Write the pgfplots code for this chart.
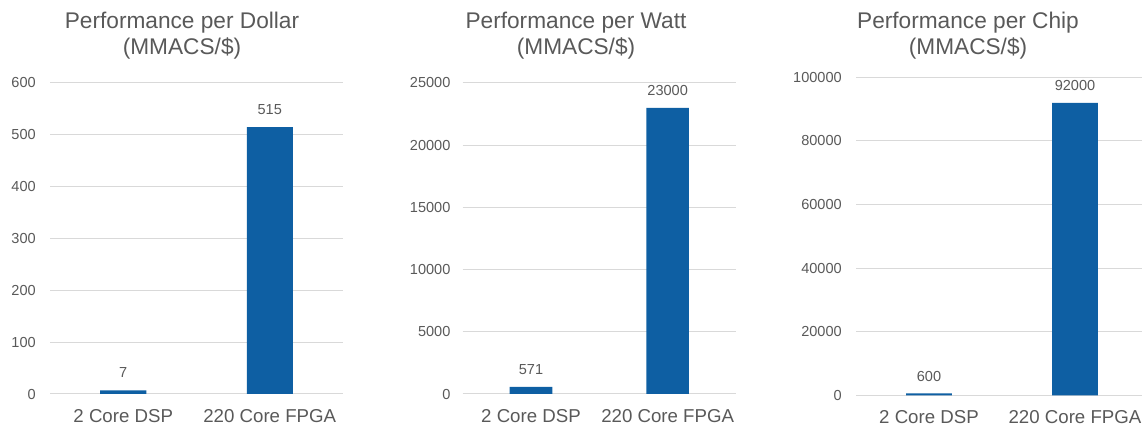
\documentclass[border=0pt]{standalone}
\usepackage{pgfplots}
\pgfplotsset{compat=1.18}
\usepackage{fontspec}
\setmainfont{Liberation Sans}
\definecolor{barblue}{HTML}{0E5FA3}
\definecolor{txt}{HTML}{595959}
\definecolor{gridc}{HTML}{D9D9D9}
\pgfplotsset{
  panel/.style={
    scale only axis, anchor=south west,
    ybar, bar width=0.314,
    xmin=-0.5, xmax=1.5, ymin=0,
    xtick={0,1}, xticklabels={2 Core DSP, 220 Core FPGA},
    axis line style={draw=none},
    major tick style={draw=none},
    ymajorgrids, grid style={gridc, line width=0.75pt},
    scaled y ticks=false,
    /pgf/number format/assume math mode=true,
    /pgf/number format/fixed,
    /pgf/number format/precision=0,
    /pgf/number format/1000 sep={},
    xticklabel style={font=\fontsize{14}{16}\selectfont, text=txt, anchor=base, yshift=-17pt},
    yticklabel style={font=\fontsize{10.9}{13}\selectfont, text=txt, anchor=east, inner sep=0pt, xshift=-10.5pt},
    nodes near coords,
    nodes near coords style={font=\fontsize{10.9}{13}\selectfont, text=txt, anchor=base, yshift=9.3pt},
  },
  bars/.style={fill=barblue, draw=none},
}
\tikzset{ttl/.style={anchor=base, font=\fontsize{17}{20}\selectfont, text=txt}}
\begin{document}
\begin{tikzpicture}
\useasboundingbox (0,0) rectangle (856.5pt,321pt);
\clip (0,0) rectangle (856.5pt,321pt);
\begin{axis}[panel, at={(37.5pt,25.5pt)}, width=219.75pt, height=233.25pt,
  ymax=600, ytick={0,100,...,600}]
\addplot[bars] coordinates {(0,7) (1,515)};
\end{axis}
\begin{axis}[panel, at={(347pt,25.5pt)}, width=205pt, height=233.25pt,
  ymax=25000, ytick={0,5000,...,25000}, bar width=0.312,
  yticklabel style={xshift=1.5pt}]
\addplot[bars] coordinates {(0,571) (1,23000)};
\end{axis}
\begin{axis}[panel, at={(642pt,24.5pt)}, width=219pt, height=238.5pt,
  ymax=100000, ytick={0,20000,...,100000}, bar width=0.312]
\addplot[bars] coordinates {(0,600) (1,92000)};
\end{axis}
\node[ttl] at (136.5pt,299.8pt) {Performance per Dollar};
\node[ttl] at (136.5pt,279.75pt) {(MMACS/\$)};
\node[ttl] at (432pt,299.8pt) {Performance per Watt};
\node[ttl] at (432pt,279.75pt) {(MMACS/\$)};
\node[ttl] at (726pt,299.8pt) {Performance per Chip};
\node[ttl] at (726pt,279.75pt) {(MMACS/\$)};
\end{tikzpicture}
\end{document}
